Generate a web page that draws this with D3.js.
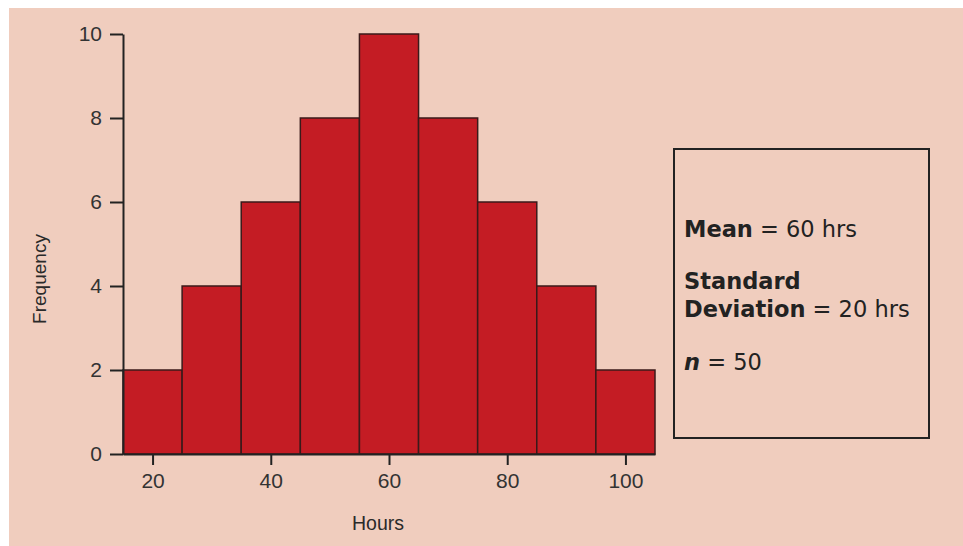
<!DOCTYPE html>
<html>
<head>
<meta charset="utf-8">
<script src="https://cdn.jsdelivr.net/npm/d3@7"></script>
<style>
  body { margin: 0; background: #fff; overflow: hidden; }
  svg { display: block; }
  svg text { font-family: "Liberation Sans", Arial, sans-serif; fill: #2a2a2a; }
</style>
</head>
<body>
<div id="chart"></div>
<script>
const WIDTH = 963
const HEIGHT = 546

// histogram bins: centre of each 10 hr bin and its count
const binCenters = [20, 30, 40, 50, 60, 70, 80, 90, 100]
const frequencies = [2, 4, 6, 8, 10, 8, 6, 4, 2]
const BIN_WIDTH = 10
const xTicks = [20, 40, 60, 80, 100]
const yTicks = [0, 2, 4, 6, 8, 10]
const statLines = [
    { bold: "Mean", rest: " = 60 hrs" },
    { bold: "Standard", rest: "" },
    { bold: "Deviation", rest: " = 20 hrs" },
    { bold: "n", rest: " = 50", italic: true }
]

const svg = d3.select("#chart")
    .append("svg")
    .attr("width", WIDTH)
    .attr("height", HEIGHT)

svg.append("rect")
    .attr("x", 9).attr("y", 8)
    .attr("width", WIDTH - 9).attr("height", HEIGHT - 8)
    .style("fill", "#f0cdbe")

const x = d3.scaleLinear().domain([15, 105]).range([123, 655])
const y = d3.scaleLinear().domain([0, 10]).range([454, 34])

// bars
svg.selectAll(".bar")
    .data(binCenters.map((c, i) => ({ c, f: frequencies[i] })))
    .enter()
    .append("rect")
    .attr("class", "bar")
    .attr("x", d => x(d.c - BIN_WIDTH / 2))
    .attr("y", d => y(d.f))
    .attr("width", d => x(d.c + BIN_WIDTH / 2) - x(d.c - BIN_WIDTH / 2))
    .attr("height", d => y(0) - y(d.f))
    .style("fill", "#c41c24")
    .style("stroke", "#3a1a1a")
    .style("stroke-width", 1.5)

// axes
const yAxis = svg.append("g")
    .attr("transform", `translate(${x(15)},0)`)
    .call(d3.axisLeft(y).tickValues(yTicks).tickSize(13).tickSizeOuter(0).tickPadding(8))
const xAxis = svg.append("g")
    .attr("transform", `translate(0,${y(0)})`)
    .call(d3.axisBottom(x).tickValues(xTicks).tickSize(11).tickSizeOuter(0).tickPadding(8))

for (const g of [xAxis, yAxis]) {
    g.selectAll("path, line").style("stroke", "#222").style("stroke-width", 2)
    g.selectAll("text").style("font-size", "21px").style("fill", "#333")
        .style("font-family", "\"Liberation Sans\", Arial, sans-serif")
}

svg.append("text")
    .attr("x", 378).attr("y", 530)
    .attr("text-anchor", "middle")
    .style("font-size", "19.5px")
    .text("Hours")

svg.append("text")
    .attr("transform", "translate(46,279) rotate(-90)")
    .attr("text-anchor", "middle")
    .style("font-size", "19px")
    .text("Frequency")

// stats box
svg.append("rect")
    .attr("x", 674).attr("y", 149)
    .attr("width", 255).attr("height", 289)
    .style("fill", "none")
    .style("stroke", "#222")
    .style("stroke-width", 2)

const baselines = [237, 289, 317, 370]
statLines.forEach((l, i) => {
    const t = svg.append("text")
        .attr("x", 684).attr("y", baselines[i])
        .style("font-family", "\"DejaVu Sans\", sans-serif")
        .style("font-size", "22.5px")
        .style("fill", "#222")
    t.append("tspan").style("font-weight", "bold")
        .style("font-style", l.italic ? "italic" : "normal")
        .text(l.bold)
    t.append("tspan").text(l.rest)
})
</script>
</body>
</html>
